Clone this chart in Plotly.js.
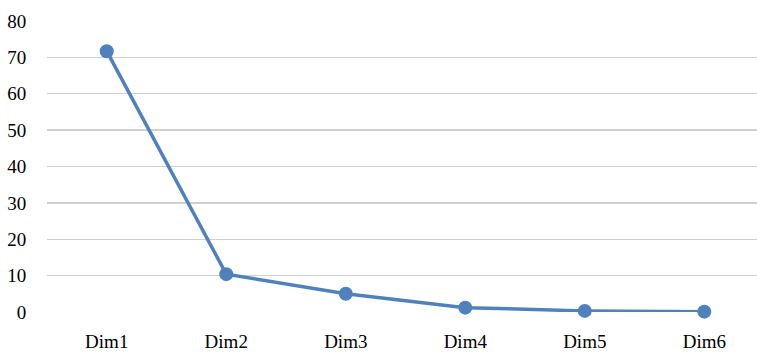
<!DOCTYPE html>
<html>
<head>
<meta charset="utf-8">
<script src="https://cdn.plot.ly/plotly-3.0.1.min.js"></script>
<style>html,body{margin:0;padding:0;background:#fff;}#chart{width:757px;height:353px;}</style>
</head>
<body>
<div id="chart"></div>
<script>
const categories = ["Dim1", "Dim2", "Dim3", "Dim4", "Dim5", "Dim6"];
const values = [71.7, 10.4, 5.0, 1.2, 0.3, 0.1];
const yTicks = [0, 10, 20, 30, 40, 50, 60, 70, 80];

const trace = {
  x: [0, 1, 2, 3, 4, 5],
  y: values,
  type: 'scatter',
  mode: 'lines+markers',
  line: {color: '#4F81BD', width: 3.5},
  marker: {color: '#4F81BD', size: 14},
  cliponaxis: false,
  hoverinfo: 'skip'
};

const layout = {
  width: 757, height: 353,
  margin: {l: 47, r: 0, t: 21, b: 40.5},
  paper_bgcolor: '#fff', plot_bgcolor: '#fff',
  showlegend: false,
  font: {family: '"Liberation Serif", "Times New Roman", serif', size: 19, color: '#000'},
  xaxis: {
    range: [-0.5, 5.441],
    tickmode: 'array', tickvals: [0, 1, 2, 3, 4, 5], ticktext: categories,
    showgrid: false, zeroline: false, showline: false,
    ticks: 'outside', ticklen: 12, tickcolor: 'rgba(0,0,0,0)'
  },
  yaxis: {
    range: [0, 80],
    tickmode: 'array', tickvals: yTicks, ticktext: yTicks.map(String),
    showgrid: true, gridcolor: '#d0d0d0', gridwidth: 1.4,
    zeroline: false, showline: false,
    ticks: 'outside', ticklen: 16, tickcolor: 'rgba(0,0,0,0)'
  }
};

Plotly.newPlot('chart', [trace], layout, {staticPlot: true, displayModeBar: false});
</script>
</body>
</html>
